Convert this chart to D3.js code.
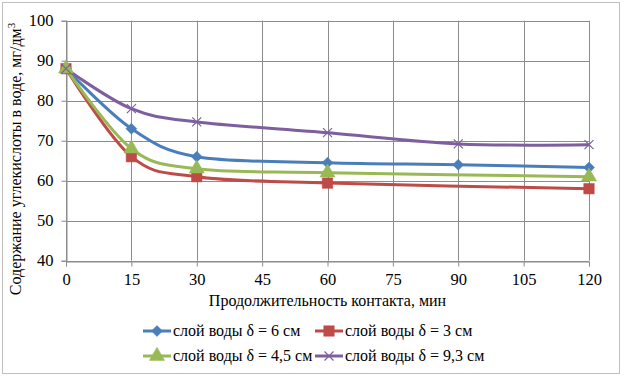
<!DOCTYPE html>
<html><head><meta charset="utf-8">
<script src="https://cdn.jsdelivr.net/npm/d3@7"></script>
<style>body{margin:0;background:#fff}svg{display:block}
svg text{font-family:"Times New Roman","Liberation Serif",Tinos,"DejaVu Serif",serif !important;fill:#000}</style>
</head><body>
<svg id="c" width="624" height="377"></svg>
<script>
const xTicks = [0,15,30,45,60,75,90,105,120];
const yTicks = [40,50,60,70,80,90,100];
const xTitle = "Продолжительность контакта, мин";
const yTitle = "Содержание углекислоты в воде, мг/дм";
const seriesNames = ["слой воды δ = 6 см","слой воды δ = 3 см","слой воды δ = 4,5 см","слой воды δ = 9,3 см"];
const x6 = [0,15,30,60,90,120];   const v6 = [88,73,66,64.5,64,63.3];
const x3 = [0,15,30,60,120];      const v3 = [88,66,61,59.4,58];
const x45 = [0,15,30,60,120];     const v45 = [88,68,63,62,61];
const x93 = [0,15,30,60,90,120];  const v93 = [88,78,74.7,72,69.2,69];
const colors = ["#4a7ebb","#be4b48","#98b954","#7d5fa0"];
const markers = ["diamond","square","triangle","x"];

const series = [
  {name:seriesNames[0], xs:x6, ys:v6},
  {name:seriesNames[1], xs:x3, ys:v3},
  {name:seriesNames[2], xs:x45, ys:v45},
  {name:seriesNames[3], xs:x93, ys:v93}
];

const svg = d3.select("#c");
svg.append("rect").attr("x",2.5).attr("y",2.5).attr("width",617).attr("height",371)
  .attr("fill","#fff").attr("stroke","#bfbfbf").attr("stroke-width",1);

const L=66, R=589, T=20.7, B=260.7;
const x = d3.scaleLinear().domain([0,120]).range([L,R]);
const y = d3.scaleLinear().domain([40,100]).range([B,T]);

svg.append("g").selectAll("line").data(yTicks).join("line")
  .attr("x1",L).attr("x2",R).attr("y1",d=>Math.round(y(d))+0.5).attr("y2",d=>Math.round(y(d))+0.5)
  .attr("stroke","#8c8c8c").attr("stroke-width",1);
svg.append("g").selectAll("line").data(xTicks).join("line")
  .attr("y1",T).attr("y2",B).attr("x1",d=>Math.round(x(d))+0.5).attr("x2",d=>Math.round(x(d))+0.5)
  .attr("stroke","#8c8c8c").attr("stroke-width",1);

const ax = svg.append("g").attr("transform",`translate(0,${Math.round(B)+0.5})`)
  .call(d3.axisBottom(x).tickValues(xTicks).tickSize(5).tickPadding(4).tickFormat(d3.format("d")));
const ay = svg.append("g").attr("transform",`translate(${Math.round(L)+0.5},0)`)
  .call(d3.axisLeft(y).tickValues(yTicks).tickSize(5).tickPadding(8).tickFormat(d3.format("d")));
[ax,ay].forEach(g=>{
  g.attr("font-family",null);
  g.select(".domain").attr("stroke","#8c8c8c");
  g.selectAll(".tick line").attr("stroke","#8c8c8c");
  g.selectAll(".tick text").attr("font-size",16.5).attr("fill","#000");
});
ax.selectAll(".tick text").attr("dy","0.9em");

const line = d3.line().x(d=>x(d[0])).y(d=>y(d[1])).curve(d3.curveCardinal.tension(0));
const sym = {diamond:d3.symbolDiamond, square:d3.symbolSquare, triangle:d3.symbolTriangle};
function drawMarker(g, type, col, cx, cy){
  if(type==="x"){
    const s=4.5;
    g.append("path").attr("d",`M${cx-s},${cy-s}L${cx+s},${cy+s}M${cx-s},${cy+s}L${cx+s},${cy-s}`)
      .attr("stroke",col).attr("stroke-width",1.2).attr("fill","none");
  } else if(type==="diamond"){
    const s=5.5;
    g.append("path").attr("d",`M${cx},${cy-s}L${cx+s},${cy}L${cx},${cy+s}L${cx-s},${cy}Z`)
      .attr("fill",col).attr("stroke",col).attr("stroke-width",0.5);
  } else {
    const size = type==="square"?110:100;
    g.append("path").attr("d",d3.symbol(sym[type],size)())
      .attr("transform",`translate(${cx},${cy})`).attr("fill",col).attr("stroke",col).attr("stroke-width",0.5);
  }
}
series.forEach((s,i)=>{
  const pts = s.xs.map((xv,j)=>[xv,s.ys[j]]);
  svg.append("path").datum(pts).attr("d",line).attr("fill","none")
    .attr("stroke",colors[i]).attr("stroke-width",3).attr("stroke-linejoin","round");
});
series.forEach((s,i)=>{
  const g = svg.append("g");
  s.xs.forEach((xv,j)=>drawMarker(g, markers[i], colors[i], x(xv), y(s.ys[j])));
});

svg.append("text").attr("x",(L+R)/2).attr("y",306).attr("text-anchor","middle")
  .attr("font-size",16).text(xTitle);
const yt = svg.append("text").attr("transform","translate(21,159) rotate(-90)")
  .attr("text-anchor","middle").attr("font-size",16);
yt.append("tspan").text(yTitle);
yt.append("tspan").attr("dy",-6).attr("font-size",11).text("3");

const legPos = [[143,331],[315,331],[143,356],[315,356]];
series.forEach((s,i)=>{
  const [lx,ly]=legPos[i];
  const g = svg.append("g");
  g.append("line").attr("x1",lx).attr("x2",lx+28).attr("y1",ly).attr("y2",ly)
    .attr("stroke",colors[i]).attr("stroke-width",3);
  drawMarker(g, markers[i], colors[i], lx+14, ly);
  g.append("text").attr("x",lx+30).attr("y",ly+5).attr("font-size",16).text(s.name);
});
</script>
</body></html>
